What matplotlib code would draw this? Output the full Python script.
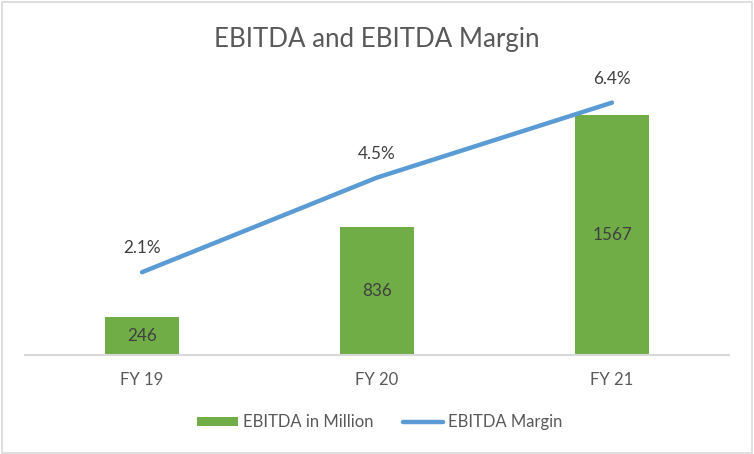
import matplotlib
matplotlib.use("Agg")
import matplotlib.pyplot as plt
from matplotlib.patches import Rectangle
from matplotlib.lines import Line2D
from matplotlib.patches import Patch

categories = ["FY 19", "FY 20", "FY 21"]
ebitda = [246, 836, 1567]
margin = [2.1, 4.5, 6.4]
margin_labels = ["2.1%", "4.5%", "6.4%"]

GREEN = "#70AD47"
BLUE = "#5B9BD5"
GRAY = "#595959"
TXT = "#404040"

plt.rcParams['font.family'] = ['Lato', 'DejaVu Sans']

fig = plt.figure(figsize=(7.54, 4.54), dpi=100)
ax = fig.add_axes([0.0325, 0.218, 0.935, 0.608])
x = list(range(len(categories)))
bars = ax.bar(x, ebitda, width=0.315, color=GREEN, zorder=2)
ax.set_xlim(-0.5, len(categories) - 0.5)
ax.set_ylim(0, 1800)
for xi, v in zip(x, ebitda):
    ax.text(xi, v / 2, str(v), ha='center', va='center', fontsize=12.3, color=TXT, zorder=3)
ax.set_xticks(x)
ax.set_xticklabels(categories, fontsize=12, color=GRAY)
ax.tick_params(axis='x', length=0, pad=12)
ax.set_yticks([])
for s in ['top', 'right', 'left']:
    ax.spines[s].set_visible(False)
ax.spines['bottom'].set_color('#D9D9D9')
ax.spines['bottom'].set_linewidth(1.5)

ax2 = ax.twinx()
ax2.set_ylim(0, 7)
ax2.plot(x, margin, color=BLUE, linewidth=3.2, solid_capstyle='round', zorder=4)
for xi, v, lab in zip(x, margin, margin_labels):
    ax2.annotate(lab, (xi, v), xytext=(0, 11.5), textcoords='offset points',
                 ha='center', va='bottom', fontsize=12.3, color=TXT)
ax2.set_yticks([])
for s in ax2.spines.values():
    s.set_visible(False)

fig.text(0.5, 0.912, "EBITDA and EBITDA Margin", ha='center', va='center',
         fontsize=18.6, color=GRAY)

handles = [Patch(facecolor=GREEN, edgecolor='none'),
           Line2D([0], [0], color=BLUE, linewidth=3.2, solid_capstyle='round')]
fig.legend(handles, ["EBITDA in Million", "EBITDA Margin"], loc='center',
           bbox_to_anchor=(0.504, 0.07), ncol=2, frameon=False, fontsize=12,
           labelcolor=GRAY, handlelength=2.45, handleheight=0.5, columnspacing=1.75,
           handletextpad=0.3)

fig.patches.append(Rectangle((0.002, 0.003), 0.995, 0.993, transform=fig.transFigure,
                             fill=False, edgecolor='#D9D9D9', linewidth=1.2))
fig.savefig("out.png", dpi=100, facecolor='white')
